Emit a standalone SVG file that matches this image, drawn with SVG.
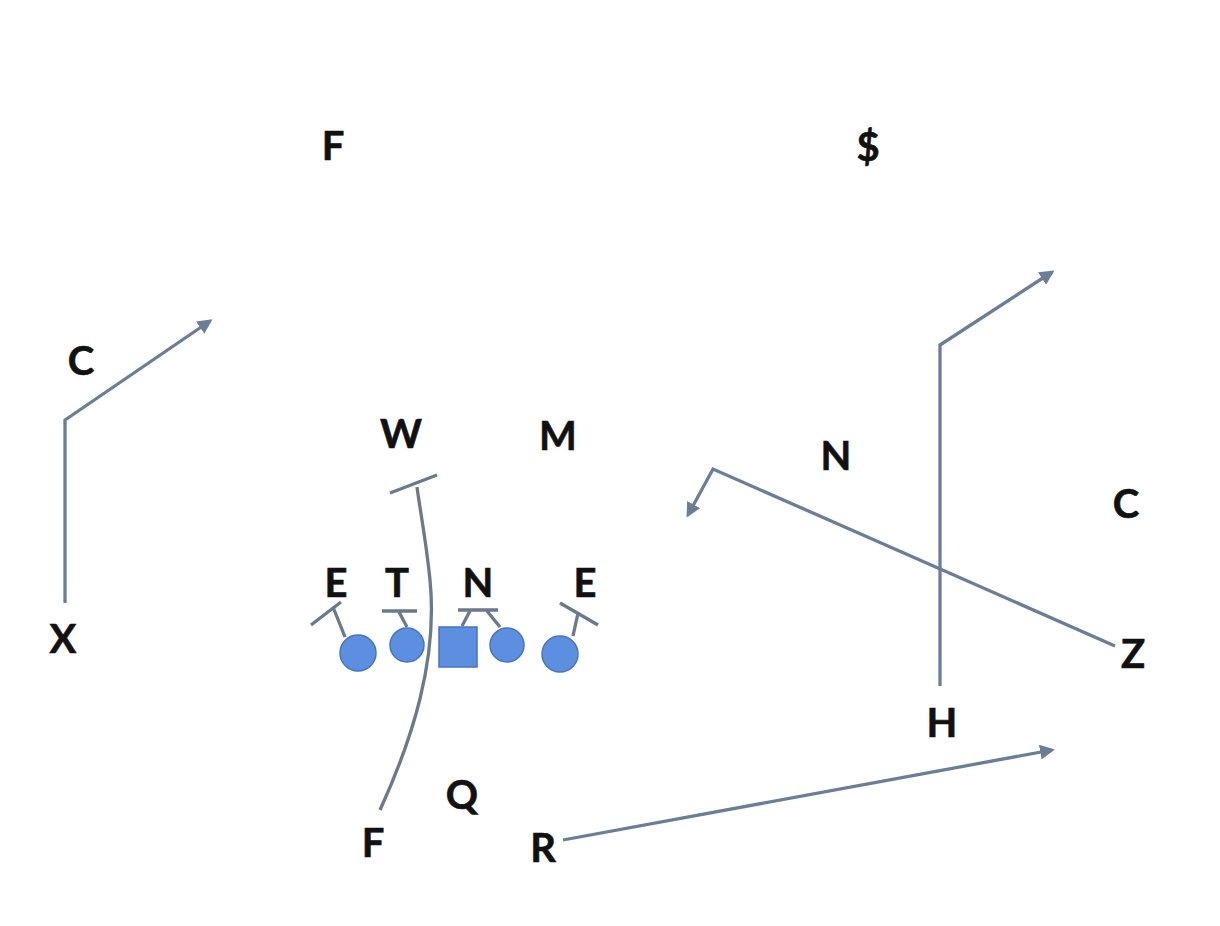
<svg xmlns="http://www.w3.org/2000/svg" width="1220" height="926" viewBox="0 0 1220 926">
<style>
.lbl{font-family:Lato,"Open Sans","Liberation Sans",sans-serif;font-weight:700;font-size:40px;fill:#111;text-anchor:middle;stroke:#111;stroke-width:0.6}
.rt{fill:none;stroke:#6a7e98;stroke-width:3.3;stroke-linejoin:miter}
.blk{fill:none;stroke:#6a7a8c;stroke-width:3.3}
.pl{fill:#5c8fe0;stroke:#4674c0;stroke-width:1.5}
</style>
<defs>
<marker id="ah" viewBox="0 0 10 10" refX="8" refY="5" markerWidth="4.5" markerHeight="4.5" orient="auto" markerUnits="strokeWidth">
<path d="M0,0 L10,5 L0,10 z" fill="#6a7e98"/>
</marker>
<radialGradient id="g" cx="0.45" cy="0.4" r="0.6">
<stop offset="0" stop-color="#6a9cec"/>
<stop offset="1" stop-color="#5385d6"/>
</radialGradient>
</defs>
<rect width="1220" height="926" fill="#fff"/>
<g id="connectors">
<path class="rt" d="M65,603 L65,420 L210,321" marker-end="url(#ah)"/>
<path class="rt" d="M940,686 L940,345 L1052,272" marker-end="url(#ah)"/>
<path class="rt" d="M1115,646 L713,469 L688,515" marker-end="url(#ah)"/>
<path class="rt" d="M563,840 L1052,750" marker-end="url(#ah)"/>
<path class="blk" d="M380,810 C412,740 438,660 430,580 C426,540 420,510 417,487"/>
<path class="blk" d="M390,493 L437,475"/>
<path class="blk" d="M345,637 L333,607 M311,625 L341,602"/>
<path class="blk" d="M407,627 L399,612 M382,611 L417,611"/>
<path class="blk" d="M462,626 L470,611 M487,611 L500,627 M458,610 L498,610"/>
<path class="blk" d="M573,636 L578,613 M560,603 L598,625"/>
</g>
<g id="ol1"><circle class="pl" cx="358" cy="653" r="18" fill="url(#g)"/></g>
<g id="ol2"><circle class="pl" cx="407" cy="645" r="17" fill="url(#g)"/></g>
<g id="center"><rect class="pl" x="439" y="627" width="38" height="40" fill="url(#g)"/></g>
<g id="ol3"><circle class="pl" cx="507" cy="645" r="17" fill="url(#g)"/></g>
<g id="ol4"><circle class="pl" cx="560" cy="654" r="18" fill="url(#g)"/></g>
<g id="labels">
<g id="n-F-top"><text class="lbl" x="333" y="160">F</text></g>
<g id="n-dollar"><text class="lbl" x="868" y="161">$</text></g>
<g id="n-C-left"><text class="lbl" x="81" y="375">C</text></g>
<g id="n-X"><text class="lbl" x="63" y="653">X</text></g>
<g id="n-W"><text class="lbl" x="401" y="448">W</text></g>
<g id="n-M"><text class="lbl" x="558" y="450">M</text></g>
<g id="n-N-right"><text class="lbl" x="836" y="470">N</text></g>
<g id="n-C-right"><text class="lbl" x="1126" y="518">C</text></g>
<g id="n-E1"><text class="lbl" x="336" y="597">E</text></g>
<g id="n-T"><text class="lbl" x="397" y="597">T</text></g>
<g id="n-N"><text class="lbl" x="478" y="597">N</text></g>
<g id="n-E2"><text class="lbl" x="585" y="597">E</text></g>
<g id="n-Z"><text class="lbl" x="1133" y="668">Z</text></g>
<g id="n-H"><text class="lbl" x="942" y="737">H</text></g>
<g id="n-Q"><text class="lbl" x="462" y="809">Q</text></g>
<g id="n-F-bot"><text class="lbl" x="373" y="857">F</text></g>
<g id="n-R"><text class="lbl" x="543" y="862">R</text></g>
</g>
</svg>
